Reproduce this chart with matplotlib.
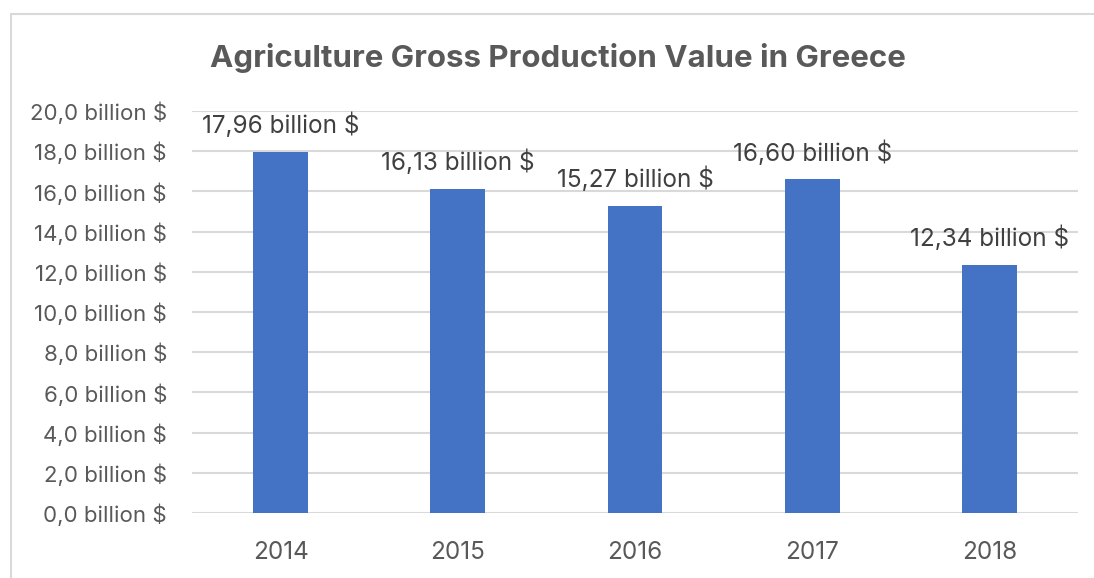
import matplotlib.pyplot as plt
from matplotlib.patches import Rectangle

years = ['2014', '2015', '2016', '2017', '2018']
values = [17.96, 16.13, 15.27, 16.60, 12.34]
yticks = [0, 2, 4, 6, 8, 10, 12, 14, 16, 18, 20]

plt.rcParams['font.family'] = ['Inter', 'DejaVu Sans']
grey = '#595959'

fig = plt.figure(figsize=(10.94, 5.78), dpi=100)
ax = fig.add_axes([192 / 1094, 1 - 513 / 578, 886 / 1094, 402 / 578])

# outer chart frame
fig.patches.append(Rectangle((11 / 1094, -0.05), 1.2, 1 - 14 / 578 + 0.05,
                             transform=fig.transFigure, fill=False,
                             edgecolor='#d9d9d9', linewidth=1.5))

x = range(len(years))
bars = ax.bar(x, values, width=0.31, color='#4472c4', zorder=3)
for i, v in enumerate(values):
    ax.annotate(f'{v:.2f}'.replace('.', ',') + ' billion $', (i, v),
                xytext=(0, 19), textcoords='offset points',
                ha='center', va='center', fontsize=17.5, color='#404040')

ax.set_xlim(-0.5, len(years) - 0.5)
ax.set_ylim(0, 20)
ax.set_xticks(list(x))
ax.set_xticklabels(years, fontsize=17.5, color=grey)
ax.set_yticks(yticks)
ax.set_yticklabels([f'{t:.1f}'.replace('.', ',') + ' billion $' for t in yticks],
                   fontsize=16, color=grey)
ax.tick_params(length=0)
ax.tick_params(axis='x', pad=20)
ax.tick_params(axis='y', pad=18)
ax.yaxis.grid(True, color='#d9d9d9', linewidth=1.5, zorder=0)
for s in ax.spines.values():
    s.set_visible(False)

fig.text(558 / 1094, 1 - 58 / 578, 'Agriculture Gross Production Value in Greece',
         ha='center', va='center', fontsize=22.5, fontweight='bold', color=grey)

fig.savefig('out.png', dpi=100)
